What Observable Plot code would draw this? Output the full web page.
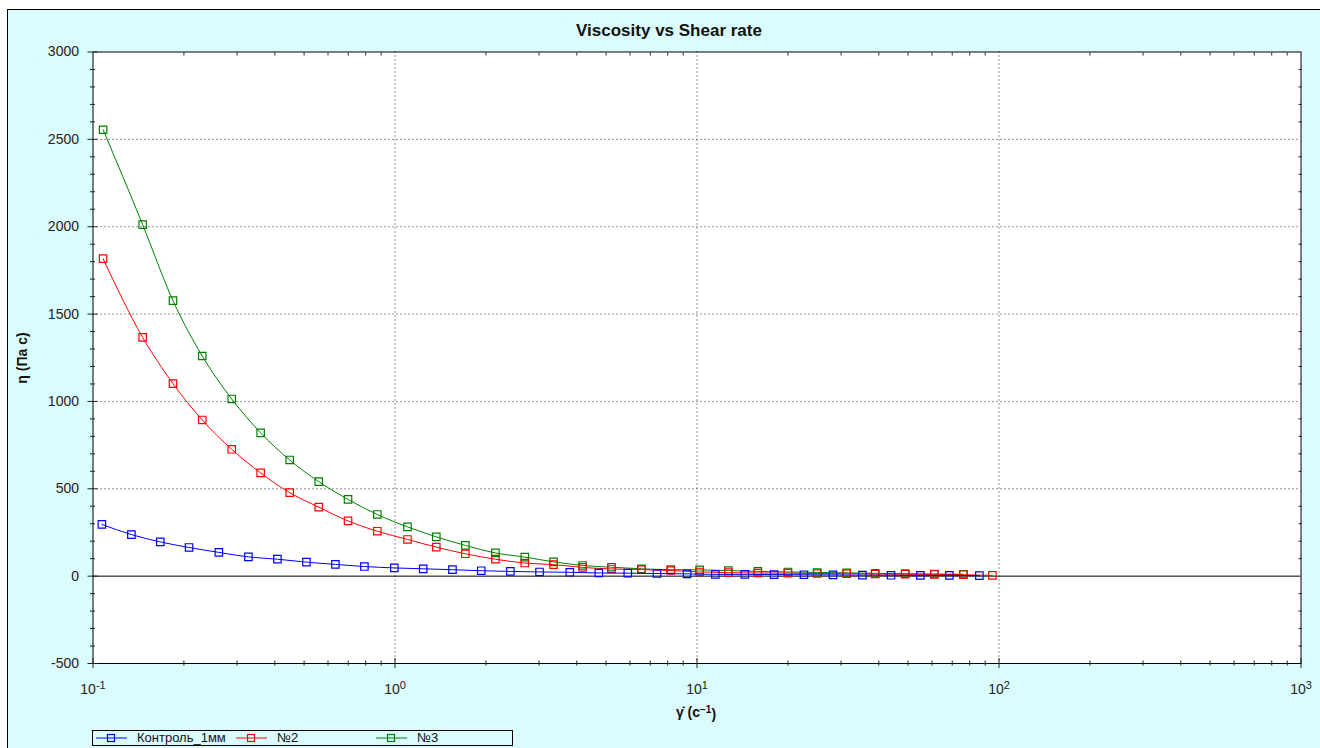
<!DOCTYPE html>
<html><head><meta charset="utf-8">
<script src="https://cdn.jsdelivr.net/npm/d3@7"></script>
<script src="https://cdn.jsdelivr.net/npm/@observablehq/plot@0.6"></script>
<style>
html,body{margin:0;padding:0;background:#fff;overflow:hidden;width:1320px;height:748px;}
#frame{position:absolute;left:7px;top:9px;width:1330px;height:760px;background:#dbfcfc;border:1px solid #000;font-family:"Liberation Sans",Arial,sans-serif;}
#chart{position:absolute;left:0;top:0;}
#title{position:absolute;left:0;top:11px;width:1322px;text-align:center;font-weight:bold;font-size:17px;line-height:20px;color:#111;}
#legend{position:absolute;left:84px;top:720px;width:419px;height:14px;border:1px solid #000;}
#legend svg{display:block;overflow:visible;}
</style></head><body>
<div id="frame"><div id="chart"></div><div id="title">Viscosity vs Shear rate</div><div id="legend"></div></div>
<script>
// ---- data ----
const seriesNames = ["Контроль_1мм", "№2", "№3"];
const seriesColors = ["#0000ff", "#ff0000", "#008000"];

const shearControl = [0.107, 0.134, 0.167, 0.208, 0.261, 0.327, 0.408, 0.509, 0.635, 0.792, 0.995,
  1.24, 1.55, 1.93, 2.41, 3.01, 3.79, 4.73, 5.90, 7.37, 9.27, 11.5, 14.4, 18.0, 22.6, 28.2, 35.3, 43.9, 54.9, 68.5, 86.1];
const viscControl = [296, 238, 196, 164, 136, 110, 97, 80, 67, 55, 47,
  42, 37, 31, 27, 24, 22, 18, 17, 15, 13, 10, 10, 9, 8, 7, 6, 5, 4, 4, 3];

const shearSamples = [0.108, 0.146, 0.184, 0.230, 0.288, 0.359, 0.448, 0.559, 0.699, 0.874, 1.10,
  1.37, 1.71, 2.15, 2.69, 3.35, 4.18, 5.21, 6.55, 8.19, 10.2, 12.7, 15.9, 20.0, 25.0, 31.3, 38.9, 48.9, 61.1, 76.2, 95.1];
const viscN2 = [1817, 1367, 1102, 894, 726, 591, 478, 395, 316, 257, 210,
  166, 128, 97, 75, 66, 50, 41, 38, 32, 24, 20, 18, 17, 15, 14, 12, 11, 10, 8, 4];
const viscN3 = [2555, 2012, 1577, 1260, 1014, 820, 665, 541, 439, 353, 282,
  225, 176, 133, 109, 82, 61, 51, 42, 37, 36, 32, 27, 24, 21, 19, 16, 14, 12, 11];

const yTickValues = [-500, 0, 500, 1000, 1500, 2000, 2500, 3000];
const xTickValues = [0.1, 1, 10, 100, 1000];
const yGridValues = [500, 1000, 1500, 2000, 2500];
const xGridValues = [1, 10, 100];

// ---- build table ----
const rows = [];
shearControl.forEach((x, i) => rows.push({s: 0, x, y: viscControl[i]}));
viscN2.forEach((y, i) => rows.push({s: 1, x: shearSamples[i], y}));
viscN3.forEach((y, i) => rows.push({s: 2, x: shearSamples[i], y}));

const minorX = [];
[0.1, 1, 10, 100].forEach(d => { for (let k = 2; k <= 9; k++) minorX.push(+(d * k).toPrecision(3)); });
const minorY = d3.range(-500, 3001, 100).filter(v => v % 500 !== 0);

const seriesMarks = [];
[2, 1, 0].forEach(s => {
  const data = rows.filter(r => r.s === s);
  seriesMarks.push(Plot.line(data, {x: "x", y: "y", stroke: seriesColors[s], strokeWidth: 1, curve: "monotone-x"}));
  seriesMarks.push(Plot.dot(data, {x: "x", y: "y", stroke: seriesColors[s], symbol: "square", r: 4.2, strokeWidth: 1.2, fill: "none"}));
});

const blank = () => "";
const chart = Plot.plot({
  width: 1312, height: 720,
  marginLeft: 84.5, marginRight: 19.5, marginTop: 41.5, marginBottom: 67,
  x: {type: "log", domain: [0.1, 1000], label: null},
  y: {domain: [-500, 3000], label: null},
  style: {fontFamily: "'Liberation Sans', Arial, sans-serif", fontSize: "14px", color: "#222", background: "transparent", overflow: "visible"},
  marks: [
    Plot.frame({fill: "#ffffff", stroke: null}),
    Plot.gridX(xGridValues, {stroke: "#000", strokeOpacity: 0.85, strokeDasharray: "1,3"}),
    Plot.gridY(yGridValues, {stroke: "#000", strokeOpacity: 0.85, strokeDasharray: "1,3"}),
    Plot.ruleY([0], {stroke: "#000", strokeWidth: 1}),
    ...seriesMarks,
    Plot.frame({stroke: "#000"}),
    // left axis
    Plot.axisY(yTickValues, {anchor: "left", tickSize: 5, tickPadding: 9, tickFormat: d => String(d), label: null}),
    Plot.axisY(yTickValues, {anchor: "left", tickSize: -5, tickFormat: blank, label: null}),
    Plot.axisY(minorY, {anchor: "left", tickSize: 2.5, tickFormat: blank, label: null}),
    Plot.axisY(minorY, {anchor: "left", tickSize: -2.5, tickFormat: blank, label: null}),
    // right border ticks
    Plot.axisY(minorY, {anchor: "right", tickSize: -3, tickFormat: blank, label: null}),
    // bottom axis
    Plot.axisX(xTickValues, {anchor: "bottom", tickSize: 5, tickPadding: 16, tickFormat: d => String(Math.round(Math.log10(d))), label: null}),
    Plot.axisX(xTickValues, {anchor: "bottom", tickSize: -5, tickFormat: blank, label: null}),
    Plot.axisX(minorX, {anchor: "bottom", tickSize: 2.5, tickFormat: blank, label: null}),
    Plot.axisX(minorX, {anchor: "bottom", tickSize: -2.5, tickFormat: blank, label: null}),
    // top border ticks
    Plot.axisX(minorX, {anchor: "top", tickSize: -3, tickFormat: blank, label: null})
  ]
});

const svg = d3.select(chart);
// superscript exponents on x tick labels
svg.selectAll('g[aria-label="x-axis tick label"] text').each(function () {
  const e = this.textContent;
  if (!e) return;
  const t = d3.select(this);
  t.text("10");
  t.append("tspan").attr("dy", "-0.5em").attr("font-size", "11px").text(e);
});
// axis titles
svg.append("text")
  .attr("transform", "translate(15,348) rotate(-90)")
  .attr("text-anchor", "middle").attr("dominant-baseline", "middle")
  .attr("font-weight", "bold").attr("font-size", "14px").attr("fill", "#111")
  .text("η (Па с)");
const xl = svg.append("text")
  .attr("x", 688).attr("y", 707)
  .attr("text-anchor", "middle")
  .attr("font-weight", "bold").attr("font-size", "14px").attr("fill", "#111");
xl.append("tspan").text("γ̇ (с");
xl.append("tspan").attr("dy", "-0.45em").attr("font-size", "10px").text("−1");
xl.append("tspan").attr("dy", "0.45em").text(")");

document.getElementById("chart").appendChild(chart);

// legend
const lg = d3.select("#legend").append("svg").attr("width", 419).attr("height", 14);
seriesNames.forEach((name, i) => {
  const x0 = 3 + i * 140;
  const g = lg.append("g");
  g.append("line").attr("x1", x0).attr("x2", x0 + 31).attr("y1", 7).attr("y2", 7)
    .attr("stroke", seriesColors[i]).attr("stroke-width", 1);
  g.append("rect").attr("x", x0 + 11.5).attr("y", 3.5).attr("width", 7).attr("height", 7)
    .attr("fill", "none").attr("stroke", seriesColors[i]).attr("stroke-width", 1.2);
  g.append("text").attr("x", x0 + 41).attr("y", 11)
    .attr("font-size", "13px").attr("fill", "#111")
    .attr("font-family", "'Liberation Sans', Arial, sans-serif").text(name);
});
</script>
</body></html>
